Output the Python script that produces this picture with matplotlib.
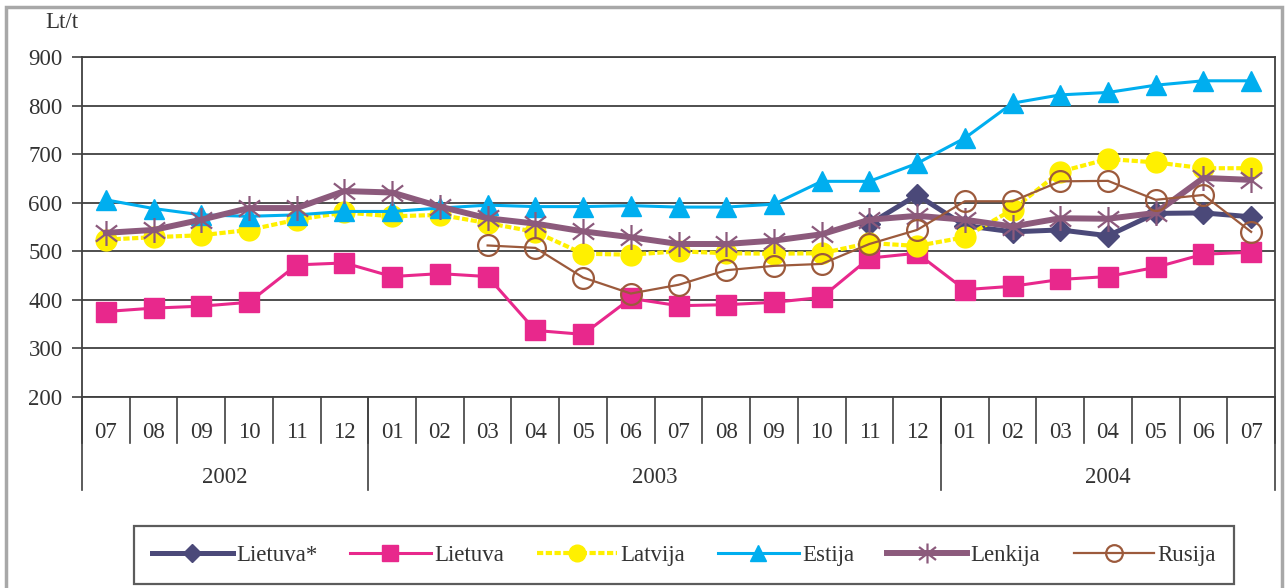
import numpy as np
import matplotlib
matplotlib.use("Agg")
import matplotlib.pyplot as plt
import matplotlib.transforms as mtransforms
from matplotlib.path import Path
from matplotlib.patches import Rectangle

# Data: monthly prices, Lt/t, 2002-07 .. 2004-07
months = ["07", "08", "09", "10", "11", "12",
          "01", "02", "03", "04", "05", "06", "07", "08", "09", "10", "11", "12",
          "01", "02", "03", "04", "05", "06", "07"]
years = ["2002", "2003", "2004"]
year_counts = [6, 12, 7]

nan = np.nan
lietuva_star = [nan] * 16 + [556, 616, 553, 540, 544, 532, 578, 579, 571]
lietuva = [376, 383, 387, 395, 472, 476, 448, 454, 448, 337, 329, 403, 388,
           390, 395, 405, 486, 496, 421, 428, 442, 448, 467, 494, 498]
latvija = [524, 529, 533, 544, 565, 580, 572, 575, 558, 540, 495, 493, 500,
           496, 495, 496, 517, 511, 529, 586, 664, 690, 683, 671, 671]
estija = [606, 588, 575, 572, 575, 582, 582, 589, 595, 592, 592, 594, 591,
          591, 597, 644, 644, 681, 733, 805, 822, 827, 842, 851, 851]
lenkija = [538, 544, 565, 589, 589, 624, 621, 592, 568, 557, 541, 529, 515,
           515, 522, 535, 565, 573, 565, 551, 568, 567, 579, 651, 647]
rusija = [nan] * 8 + [512, 507, 446, 413, 431, 461, 470, 474, 515, 544,
                      603, 603, 644, 645, 606, 616, 540]

# asterisk-like marker (vertical bar + X), like the Excel "star"
star = Path([(0, 1), (0, -1), (-0.85, 0.65), (0.85, -0.65), (-0.85, -0.65), (0.85, 0.65)],
            [Path.MOVETO, Path.LINETO] * 3)

txt = "#333333"
line_c = "#404040"
fs = 16.5
plt.rcParams["font.family"] = "Liberation Serif"
plt.rcParams["font.size"] = fs
plt.rcParams["text.color"] = txt

fig = plt.figure(figsize=(12.86, 5.88), dpi=100)
ax = fig.add_axes([82 / 1286, 1 - 397 / 588, (1275 - 82) / 1286, 340 / 588])

x = np.arange(len(months))

ax.plot(x, lietuva_star, color="#4B4979", lw=3.6, marker="D", ms=11.5,
        label="Lietuva*", zorder=3)
ax.plot(x, lietuva, color="#E8288C", lw=2.2, marker="s", ms=14.5,
        label="Lietuva", zorder=3)
ax.plot(x, latvija, color="#FFF000", lw=3, ls=(0, (1.5, 0.6)), marker="o", ms=15,
        mec="#FFF000", label="Latvija", zorder=3)
ax.plot(x, estija, color="#00AEEF", lw=2.2, marker="^", ms=15,
        label="Estija", zorder=3)
ax.plot(x, lenkija, color="#8C5A7C", lw=4.3, marker=star, ms=18, mew=1.6,
        mec="#8C5A7C", label="Lenkija", zorder=3)
ax.plot(x, rusija, color="#9C5A3C", lw=1.6, marker="o", ms=15, mfc="none",
        mew=1.6, label="Rusija", zorder=3)

# axes
ax.set_xlim(-0.5, len(months) - 0.5)
ax.set_ylim(200, 900)
ax.set_yticks(range(200, 901, 100))
ax.yaxis.grid(True, color=line_c, lw=1.3)
ax.set_axisbelow(True)
ax.set_xticks([])
ax.tick_params(axis="y", direction="out", length=7, width=1.2, color=line_c,
               pad=7, labelsize=fs, labelcolor=txt)
for sp in ax.spines.values():
    sp.set_color(line_c)
    sp.set_linewidth(1.3)

ax.text(-0.017, 1.10, "Lt/t", transform=ax.transAxes, ha="center", va="center",
        fontsize=fs)

# category axis drawn below the plot: months and years
trans = mtransforms.blended_transform_factory(ax.transData, ax.transAxes)
for i, m in enumerate(months):
    ax.text(i, -0.103, m, transform=trans, ha="center", va="center", fontsize=fs)
for b in np.arange(-0.5, len(months), 1.0):
    ax.plot([b, b], [0, -0.135], transform=trans, color=line_c, lw=1.2,
            clip_on=False)

start = -0.5
for yr, n in zip(years, year_counts):
    end = start + n
    ax.plot([start, start], [0, -0.274], transform=trans, color=line_c, lw=1.2,
            clip_on=False)
    ax.text((start + end) / 2, -0.238, yr, transform=trans, ha="center",
            va="center", fontsize=fs)
    start = end
ax.plot([start, start], [0, -0.274], transform=trans, color=line_c, lw=1.2,
        clip_on=False)

# legend box at the bottom
leg = fig.legend(loc="lower left", ncol=6, mode="expand",
                 bbox_to_anchor=(134 / 1286, 1 - 584 / 588, 1100 / 1286, 62 / 588),
                 frameon=True, fancybox=False, edgecolor="#333333",
                 handlelength=3.5, handletextpad=0.15, columnspacing=0.8,
                 markerscale=0.8, fontsize=fs, borderaxespad=0, borderpad=0.8)
leg.get_frame().set_linewidth(1.6)

# grey outer frame
fig.patches.append(Rectangle((6 / 1286, -0.05), 1276 / 1286, 1.05 - 7 / 588,
                             transform=fig.transFigure, fill=False,
                             edgecolor="#A8A8A8", lw=2.5))

fig.savefig("out.png", dpi=100)
